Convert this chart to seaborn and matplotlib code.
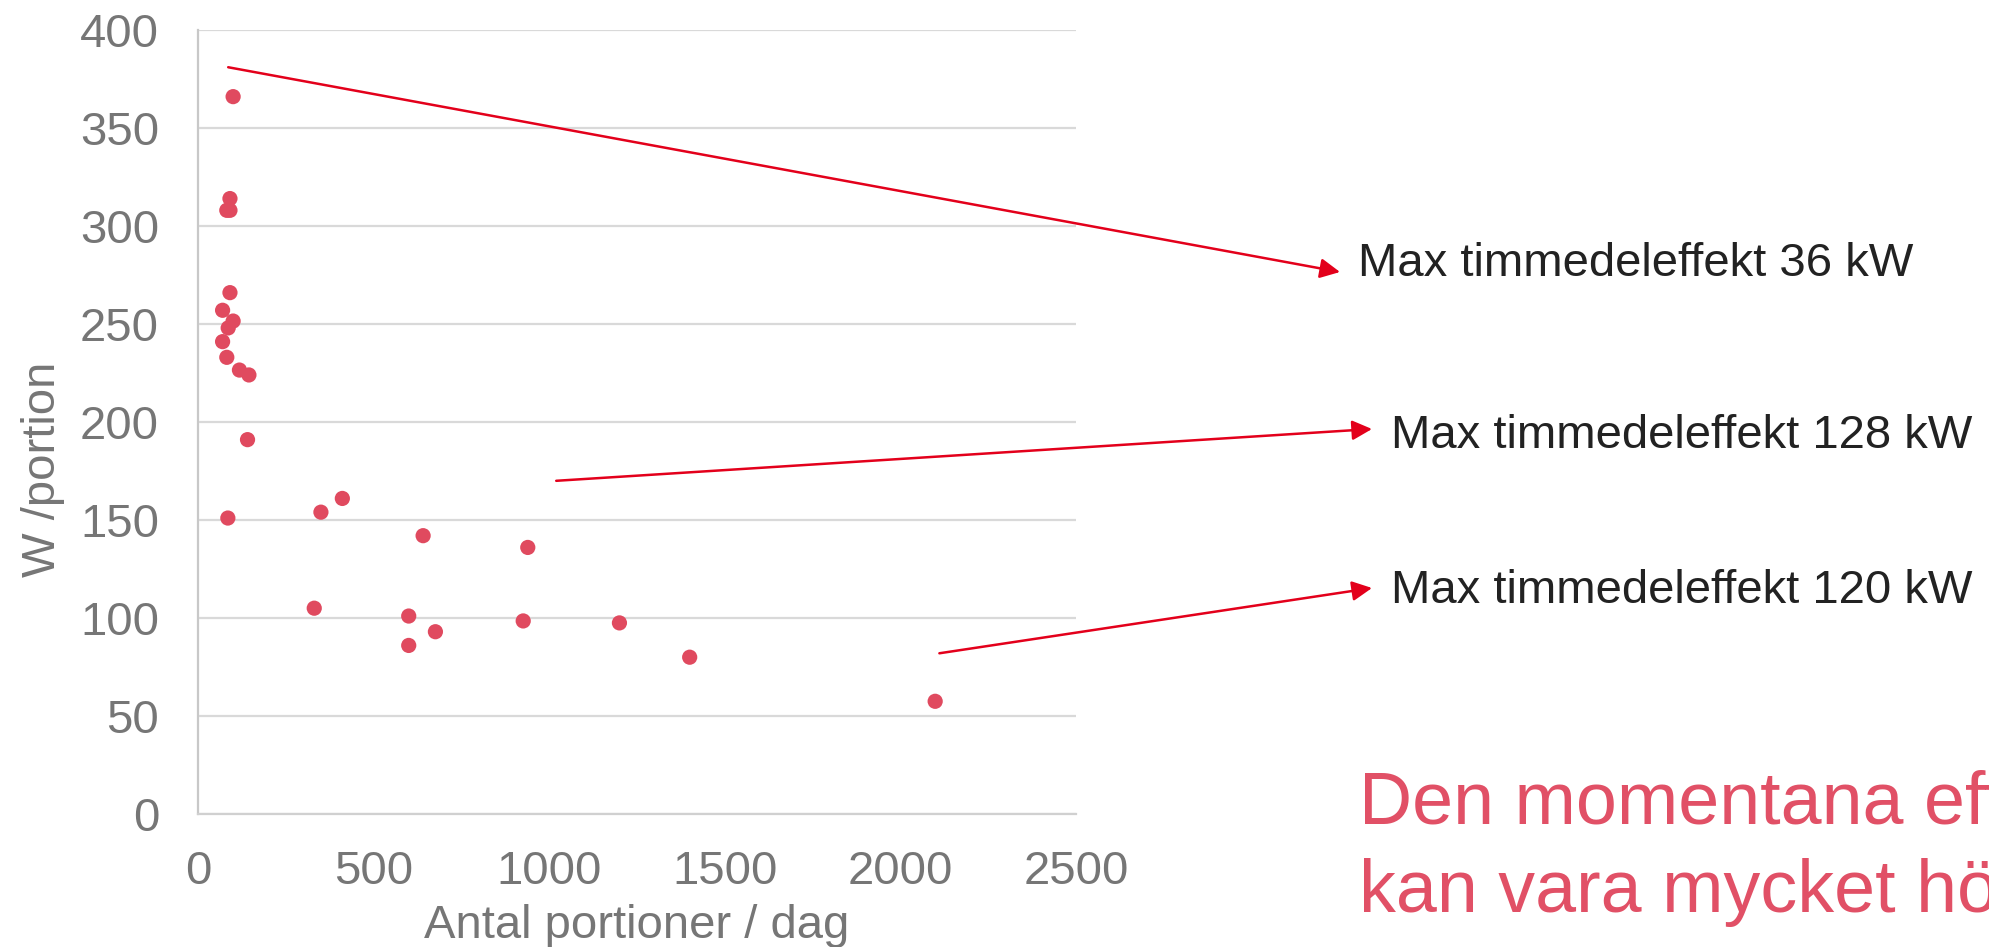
import matplotlib
matplotlib.use('Agg')
import matplotlib.pyplot as plt
import seaborn as sns
import pandas as pd

# data
portioner = [100, 91, 82, 91, 91, 70, 100, 86, 70, 82, 118, 145, 141, 85,
             350, 411, 641, 939, 331, 600, 676, 600, 926, 1200, 1400, 2099]
w_portion = [366, 314, 308, 308, 266, 257, 251.5, 248, 241, 233, 226.5, 224, 191, 151,
             154, 161, 142, 136, 105, 101, 93, 86, 98.5, 97.5, 80, 57.5]
x_ticks = [0, 500, 1000, 1500, 2000, 2500]
y_ticks = [0, 50, 100, 150, 200, 250, 300, 350, 400]

# arrows: start in data units, label text
arrow_start_x = [86, 1020, 2111]
arrow_start_y = [381, 170, 82]
labels = ['Max timmedeleffekt 36 kW', 'Max timmedeleffekt 128 kW', 'Max timmedeleffekt 120 kW']

df = pd.DataFrame({'Antal': portioner, 'W': w_portion})

sns.set_theme(style='whitegrid')
plt.rcParams['font.family'] = ['Liberation Sans', 'DejaVu Sans']

W, H = 1989, 947
fig = plt.figure(figsize=(W / 100, H / 100), dpi=100)
ax = fig.add_axes([198 / W, 1 - 814 / H, (1076 - 198) / W, (814 - 30) / H])

punkt = '#E04A5F'
sns.scatterplot(data=df, x='Antal', y='W', ax=ax, color=punkt, s=120,
                edgecolor='none', linewidth=0, zorder=3, clip_on=False)

ax.set_xlim(0, 2500)
ax.set_ylim(0, 400)
ax.set_xticks(x_ticks)
ax.set_yticks(y_ticks)
grey = '#767676'
ax.tick_params(axis='both', length=0, labelsize=34, labelcolor=grey)
ax.tick_params(axis='x', pad=26)
ax.tick_params(axis='y', pad=28)
ax.grid(axis='y', color='#D9D9D9', linewidth=1.6)
ax.grid(axis='x', visible=False)
for s in ['top', 'right']:
    ax.spines[s].set_visible(False)
ax.spines['left'].set_color('#C8C8C8')
ax.spines['left'].set_linewidth(1.6)
ax.spines['bottom'].set_color('#D0D0D0')
ax.spines['bottom'].set_linewidth(1.6)

ax.set_xlabel('Antal portioner / dag', fontsize=34, color=grey, va='baseline')
ax.xaxis.set_label_coords(0.5, (814 - 938) / 784)
ax.set_ylabel('W /portion', fontsize=34, color=grey, va='baseline', ha='center')
ax.yaxis.set_label_coords((55 - 198) / 878, (814 - 469) / 784)

# arrow heads and label positions (figure pixels, from top-left)
head_px = [(1340, 272), (1372, 429), (1372, 588)]
text_px = [(1358, 276), (1391, 448), (1391, 603)]
pil = '#E3001B'
for i in range(3):
    ax.annotate('', xy=(head_px[i][0] / W, 1 - head_px[i][1] / H), xycoords='figure fraction',
                xytext=(arrow_start_x[i], arrow_start_y[i]), textcoords='data',
                arrowprops=dict(arrowstyle='-|>,head_length=0.6,head_width=0.3',
                                color=pil, lw=1.8, mutation_scale=20,
                                shrinkA=0, shrinkB=0))
    fig.text(text_px[i][0] / W, 1 - text_px[i][1] / H, labels[i], fontsize=34,
             color='#222222', ha='left', va='baseline')

rod = '#E15066'
fig.text(1359 / W, 1 - 823 / H, 'Den momentana effekten', fontsize=53, color=rod,
         ha='left', va='baseline')
fig.text(1359 / W, 1 - 912 / H, 'kan vara mycket högre', fontsize=53, color=rod,
         ha='left', va='baseline')

fig.savefig('out.png', dpi=100)
